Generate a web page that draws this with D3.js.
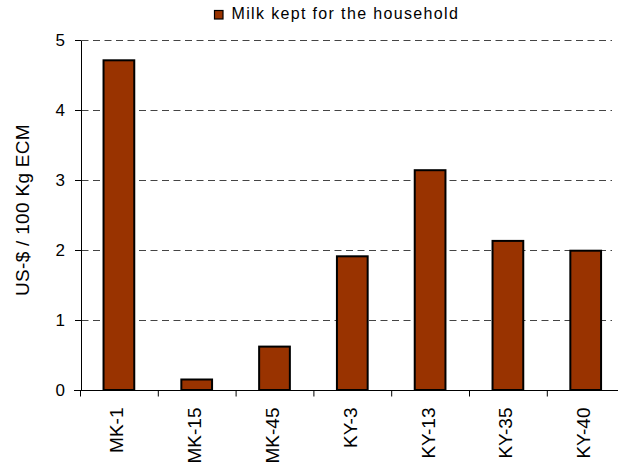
<!DOCTYPE html>
<html><head><meta charset="utf-8">
<script src="https://cdn.jsdelivr.net/npm/d3@7"></script>
<style>body{margin:0;background:#fff;overflow:hidden}svg{display:block}text{font-family:Arial,"Liberation Sans",sans-serif}</style>
</head><body>
<svg id="c" width="618" height="471"></svg>
<script>
const categories = ["MK-1","MK-15","MK-45","KY-3","KY-13","KY-35","KY-40"];
const values = [4.71, 0.15, 0.62, 1.91, 3.14, 2.13, 1.99];
const yTicks = [0,1,2,3,4,5];
const seriesName = "Milk kept for the household";
const yTitle = "US-$ / 100 Kg ECM";

(function(){
const svg = d3.select("#c");
const W = 618, H = 471;
const plotL = 80, plotR = 624.6, gridR = 612, plotTop = 40, plotBottom = 390;
const x = d3.scaleBand().domain(categories).range([plotL, plotR]).paddingInner(0.605).paddingOuter(0.3025);
const xEdge = d3.scaleBand().domain(categories).range([plotL, plotR]);
const y = d3.scaleLinear().domain([0,5]).range([plotBottom, plotTop]);

// gridlines
svg.append("g").selectAll("line").data(yTicks.filter(d=>d>0)).join("line")
  .attr("x1", plotL + 1.5).attr("x2", gridR)
  .attr("y1", d=>y(d)+0.5).attr("y2", d=>y(d)+0.5)
  .attr("stroke", "#444").attr("stroke-width", 1).attr("stroke-dasharray", "7,4.5");

// bars
svg.append("g").selectAll("rect").data(values).join("rect")
  .attr("x", (d,i)=>x(categories[i]))
  .attr("width", x.bandwidth())
  .attr("y", d=>y(d))
  .attr("height", d=>y(0)-y(d))
  .attr("fill", "#993300").attr("stroke", "#000").attr("stroke-width", 2);

// y axis
const ya = svg.append("g").attr("transform", `translate(${plotL+1},0)`)
  .call(d3.axisLeft(y).tickValues(yTicks).tickSize(6).tickSizeOuter(0).tickPadding(10).tickFormat(d3.format("d")));
ya.select(".domain").attr("stroke","#000");
ya.selectAll(".tick line").attr("stroke","#000");
ya.selectAll("text").attr("font-size", 17).attr("fill","#000").attr("font-family","Arial, 'Liberation Sans', sans-serif");

// x axis
const xa = svg.append("g").attr("transform", `translate(0,${y(0)+0.5})`);
xa.append("line").attr("x1", plotL - 6).attr("x2", W).attr("stroke","#000");
const edges = categories.map(c=>xEdge(c));
xa.selectAll("line.t").data(edges).join("line").attr("class","t")
  .attr("x1", d=>d+0.5).attr("x2", d=>d+0.5).attr("y1",0).attr("y2",6).attr("stroke","#000");
xa.selectAll("text").data(categories).join("text")
  .attr("transform", d=>`translate(${x(d)+x.bandwidth()/2+4.5},17) rotate(-90)`)
  .attr("text-anchor","end").attr("font-size",19).attr("fill","#000").text(d=>d);

// y title
svg.append("text").attr("transform", `translate(29,210) rotate(-90)`)
  .attr("text-anchor","middle").attr("font-size",19).attr("letter-spacing",0.3).attr("fill","#000").text(yTitle);

// legend
const lg = svg.append("g").attr("transform","translate(214,10)");
lg.append("rect").attr("x",0.5).attr("y",0.5).attr("width",8.5).attr("height",8.5)
  .attr("fill","#993300").attr("stroke","#000").attr("stroke-width",1.2);
lg.append("text").attr("x",17.5).attr("y",8.5).attr("font-size",16).attr("letter-spacing",1.35).attr("fill","#000").text(seriesName);
})();
</script>
</body></html>
